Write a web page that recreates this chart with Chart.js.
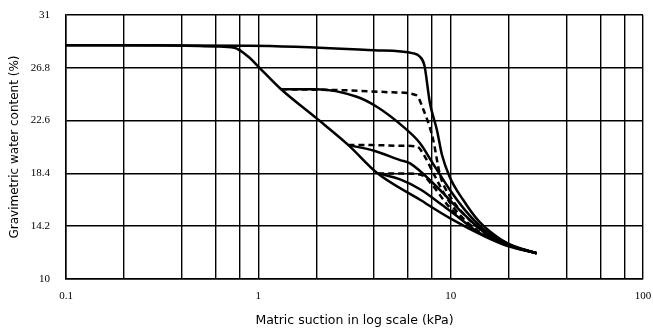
<!DOCTYPE html>
<html><head><meta charset="utf-8">
<script src="https://cdn.jsdelivr.net/npm/chart.js@4"></script>
<style>html,body{margin:0;padding:0;background:#fff}#w{width:653px;height:328px}</style>
</head><body><div id="w"><canvas id="c" width="653" height="328"></canvas></div>
<script>
const xTicks = [0.1,0.2,0.4,0.6,0.8,1,2,4,6,8,10,20,40,60,80,100];
const xTickLabels = ["0.1","","","","","1","","","","","10","","","","","100"];
const yTicks = [10,14.2,18.4,22.6,26.8,31];
const yTickLabels = ["10","14.2","18.4","22.6","26.8","31"];

const topX = [0.1,0.9,4,6.4,6.9,7.3,7.8,8.5,9.0,9.9,11.6,14,18,22,28];
const topY = [28.6,28.56,28.2,27.95,27.7,27.0,24.0,21.8,19.9,18.1,16.3,14.6,13.2,12.5,12.05];

const mainX = [0.1,0.3,0.6,0.75,0.9,1.0,1.3,2.0,2.94,4.13,6.93,10,15,20,28];
const mainY = [28.6,28.6,28.5,28.4,27.6,26.9,25.15,22.8,20.65,18.45,16.3,14.8,13.4,12.6,12.05];

const b3SolidX = [1.32,2.0,3.25,4.13,5.68,6.93,8,10,12,15,20,28];
const b3SolidY = [25.1,25.1,24.5,23.7,22.1,20.8,19.3,17.0,15.4,13.9,12.8,12.05];
const b3DashX = [1.32,3,5,6.66,7.2,7.81,8.13,8.8,10,12,15,20,28];
const b3DashY = [25.1,25.0,24.85,24.6,23.5,22.0,21.0,18.3,16.5,15.0,13.7,12.7,12.05];

const b4SolidX = [2.94,4,5.46,6.15,8.47,10,12,15,20,28];
const b4SolidY = [20.65,20.2,19.46,19.2,17.34,16.2,15.0,13.7,12.7,12.05];
const b4DashX = [2.94,4,5.5,6.66,7.3,8.2,9.5,11,14,20,28];
const b4DashY = [20.65,20.65,20.6,20.55,19.8,18.3,16.5,15.2,13.8,12.7,12.05];

const b5SolidX = [4.2,5.5,7,9,11,14,20,28];
const b5SolidY = [18.4,17.9,17.1,15.9,14.9,13.7,12.7,12.05];
const b5DashX = [4.2,5.5,7.0,8.0,9.5,11,14,20,28];
const b5DashY = [18.4,18.4,18.3,17.5,16.0,15.0,13.7,12.7,12.05];

function pts(xs, ys){ return xs.map((x,i)=>({x:x,y:ys[i]})); }
function ds(xs, ys, dashed){
  return {data:pts(xs,ys), borderColor:'#000', borderWidth:2.5, pointRadius:0,
    tension:0.25, cubicInterpolationMode:'monotone', borderDash: dashed?[6,4]:[], fill:false};
}

new Chart(document.getElementById('c'), {
  type:'line',
  data:{datasets:[
    ds(topX,topY,false), ds(mainX,mainY,false),
    ds(b3SolidX,b3SolidY,false), ds(b3DashX,b3DashY,true),
    ds(b4SolidX,b4SolidY,false), ds(b4DashX,b4DashY,true),
    ds(b5SolidX,b5SolidY,false), ds(b5DashX,b5DashY,true)
  ]},
  options:{
    responsive:false, animation:false, devicePixelRatio:1,
    layout:{padding:{top:15,right:10,left:0,bottom:0}},
    plugins:{legend:{display:false}, tooltip:{enabled:false}},
    scales:{
      x:{type:'logarithmic', min:0.1, max:100,
        afterBuildTicks:(s)=>{ s.ticks = xTicks.map(v=>({value:v})); },
        afterFit:(s)=>{ s.height = 49; s.paddingLeft = 0; s.paddingRight = 0; },
        ticks:{autoSkip:false, maxRotation:0, padding:11, color:'#000',
          font:{family:'Liberation Serif', size:11},
          callback:(v,i)=> xTickLabels[i] || ''},
        grid:{color:'#000', lineWidth:1.4, drawTicks:false},
        border:{color:'#000', width:1.5},
        title:{display:true, text:'Matric suction in log scale (kPa)', color:'#000',
          font:{family:'DejaVu Sans', size:12.5}, padding:{top:3,bottom:0}}
      },
      y:{type:'linear', min:10, max:31,
        afterBuildTicks:(s)=>{ s.ticks = yTicks.map(v=>({value:v})); },
        afterFit:(s)=>{ s.width = 66; s.paddingTop = 0; s.paddingBottom = 0; },
        ticks:{autoSkip:false, padding:16, color:'#000',
          font:{family:'Liberation Serif', size:11},
          callback:(v,i)=> yTickLabels[i]},
        grid:{color:'#000', lineWidth:1.6, drawTicks:false},
        border:{color:'#000', width:1.5},
        title:{display:true, text:'Gravimetric water content (%)', color:'#000',
          font:{family:'DejaVu Sans', size:12}, padding:{top:8,bottom:2}}
      }
    }
  }
});
</script></body></html>
